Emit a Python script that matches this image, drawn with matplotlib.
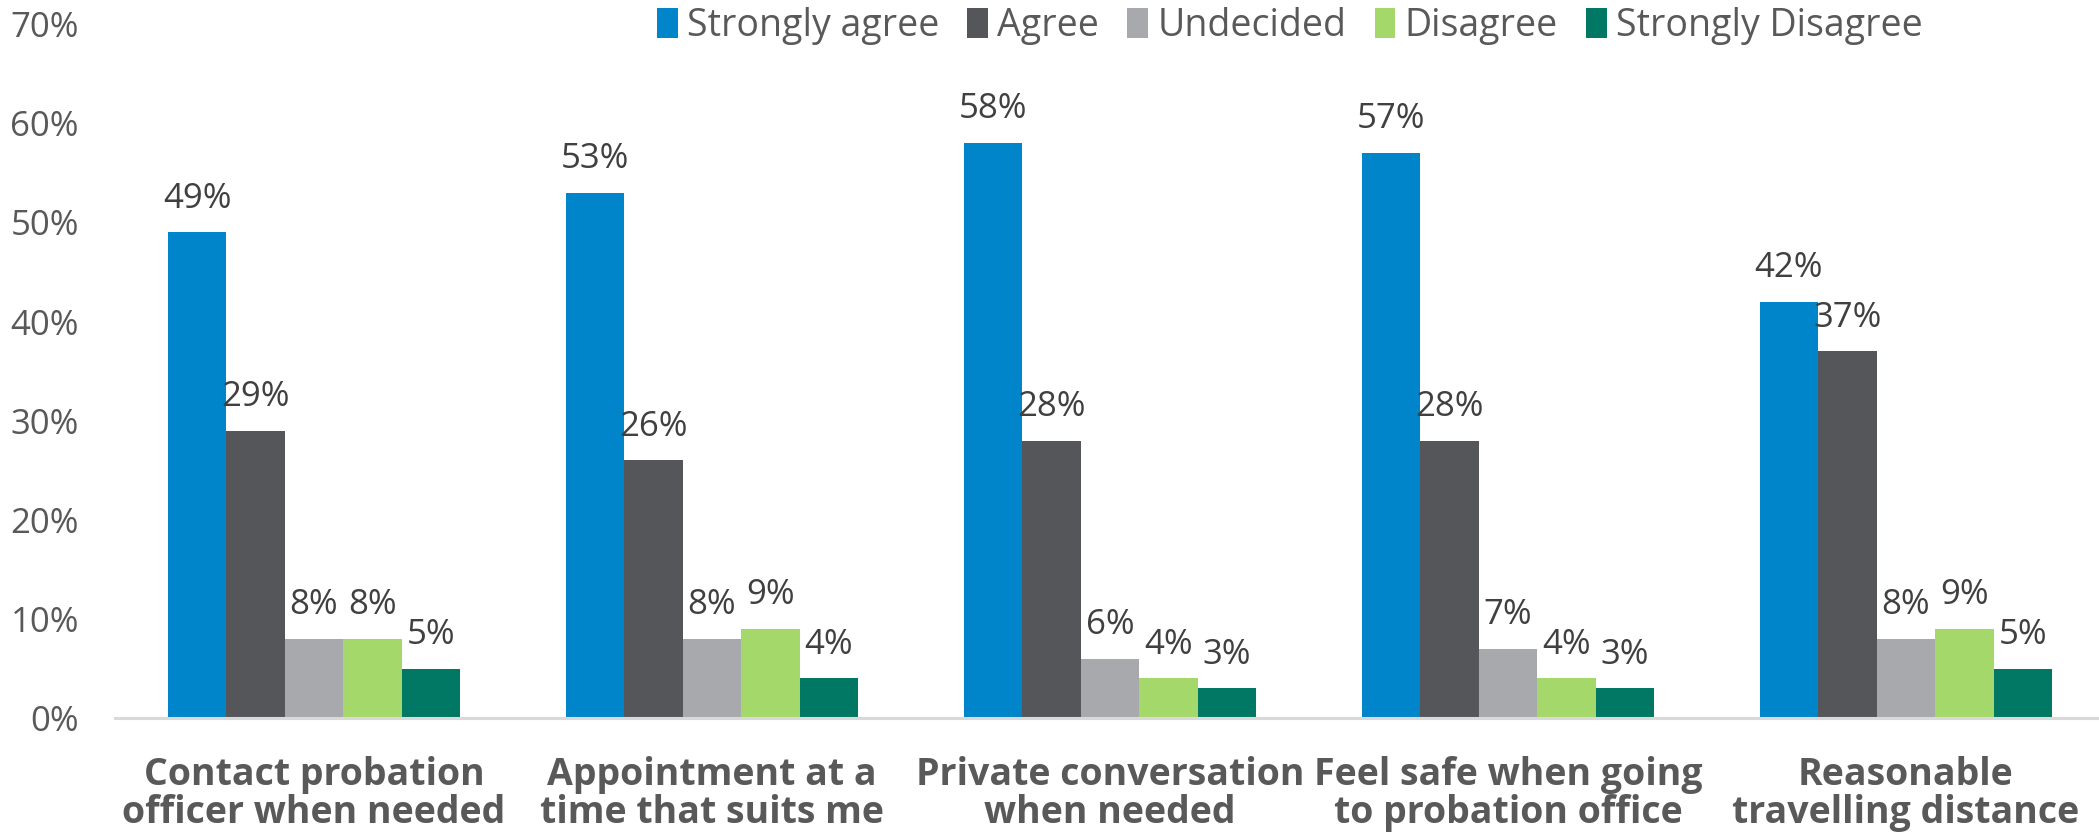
import matplotlib

matplotlib.use("Agg")
import matplotlib.pyplot as plt
import numpy as np

plt.rcParams["font.family"] = ["Open Sans", "DejaVu Sans"]

categories = [
    "Contact probation\nofficer when needed",
    "Appointment at a\ntime that suits me",
    "Private conversation\nwhen needed",
    "Feel safe when going\nto probation office",
    "Reasonable\ntravelling distance",
]
series = ["Strongly agree", "Agree", "Undecided", "Disagree", "Strongly Disagree"]
strongly_agree = [49, 53, 58, 57, 42]
agree = [29, 26, 28, 28, 37]
undecided = [8, 8, 6, 7, 8]
disagree = [8, 9, 4, 4, 9]
strongly_disagree = [5, 4, 3, 3, 5]
yticks = [0, 10, 20, 30, 40, 50, 60, 70]

colors = ["#0085CA", "#55565A", "#A7A9AC", "#A5D86A", "#007864"]
values = [strongly_agree, agree, undecided, disagree, strongly_disagree]

fig = plt.figure(figsize=(20.99, 8.34), dpi=100)
ax = fig.add_axes([0.0548, 0.139, 0.948, 0.832])

x = np.arange(len(categories)) + 0.5
bw = 0.147
for i, (name, vals, c) in enumerate(zip(series, values, colors)):
    pos = x + (i - 2) * bw
    bars = ax.bar(pos, vals, width=bw, color=c, label=name, zorder=2)
    for b, v in zip(bars, vals):
        ax.annotate(f"{v}%", (b.get_x() + b.get_width() / 2, v), xytext=(0, 12),
                    textcoords="offset points", ha="center", va="bottom",
                    fontsize=25, color="#404040")

ax.set_xlim(0, len(categories))
ax.set_ylim(0, 70)
ax.set_yticks(yticks)
ax.set_yticklabels([f"{t}%" for t in yticks], fontsize=25, color="#595959")
ax.set_xticks(x)
ax.set_xticklabels(categories, fontsize=27, fontweight="bold", color="#595959",
                   linespacing=1.0)
ax.tick_params(axis="both", length=0)
ax.tick_params(axis="x", pad=27)
ax.tick_params(axis="y", pad=26)
for s in ["top", "right", "left"]:
    ax.spines[s].set_visible(False)
ax.spines["bottom"].set_color("#D9D9D9")
ax.spines["bottom"].set_linewidth(2.2)

fig.legend(loc="center left", bbox_to_anchor=(0.313, 0.969), ncol=5, frameon=False,
           fontsize=27, handlelength=0.55, handleheight=0.85, handletextpad=0.25,
           columnspacing=0.75, labelcolor="#595959", borderpad=0, borderaxespad=0)

fig.savefig("out.png", dpi=100)
